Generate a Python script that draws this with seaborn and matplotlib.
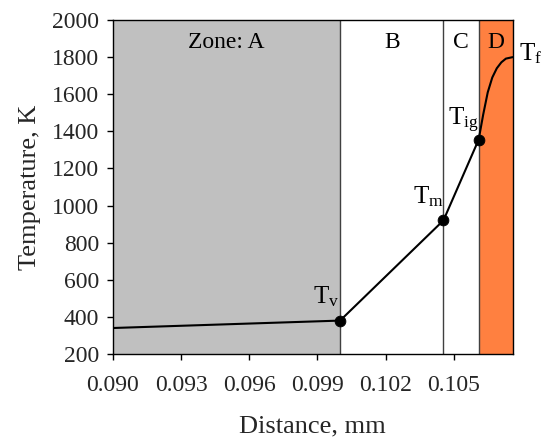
import matplotlib
matplotlib.use("Agg")
import matplotlib.pyplot as plt
import seaborn as sns
import pandas as pd

sns.set_theme(style="ticks")
plt.rcParams['font.family'] = ['Liberation Serif', 'DejaVu Serif']
plt.rcParams['mathtext.fontset'] = 'custom'
plt.rcParams['mathtext.rm'] = 'Liberation Serif'
plt.rcParams['mathtext.it'] = 'Liberation Serif'

# Temperature profile
distance = [0.0900, 0.1000, 0.10455, 0.1061, 0.1063, 0.1065, 0.1067, 0.1069, 0.1071, 0.1073, 0.1076]
temperature = [340, 380, 920, 1355, 1490, 1610, 1690, 1740, 1772, 1792, 1800]

# Marked points
pt_x = [0.1000, 0.10455, 0.1061]
pt_y = [380, 920, 1355]

# Zones
zone_edges = [0.0900, 0.1000, 0.10455, 0.1061, 0.1076]
zone_names = ["Zone: A", "B", "C", "D"]
zone_colors = ["#c0c0c0", "#ffffff", "#ffffff", "#ff8040"]

xticks = [0.090, 0.093, 0.096, 0.099, 0.102, 0.105]
yticks = [200, 400, 600, 800, 1000, 1200, 1400, 1600, 1800, 2000]

fig = plt.figure(figsize=(5.48, 4.40), dpi=100)
ax = fig.add_axes([0.2062, 0.1955, 0.7294, 0.759])

for i in range(4):
    ax.axvspan(zone_edges[i], zone_edges[i + 1], color=zone_colors[i], zorder=0, lw=0)
    ax.text((zone_edges[i] + zone_edges[i + 1]) / 2, 1880, zone_names[i],
            ha="center", va="center", fontsize=17, color="black")
for e in zone_edges[1:-1]:
    ax.axvline(e, color="#404040", lw=1.0, zorder=1)

df = pd.DataFrame({"x": distance, "y": temperature})
sns.lineplot(data=df, x="x", y="y", color="black", lw=1.5, ax=ax, zorder=3)
dp = pd.DataFrame({"x": pt_x, "y": pt_y})
sns.scatterplot(data=dp, x="x", y="y", color="black", s=60, edgecolor="black", ax=ax, zorder=4)

lab_kw = dict(fontsize=18, color="black", ha="left", va="baseline")
ax.text(0.09882, 470, r"T$_{\mathrm{v}}$", **lab_kw)
ax.text(0.10319, 1014, r"T$_{\mathrm{m}}$", **lab_kw)
ax.text(0.10473, 1434, r"T$_{\mathrm{ig}}$", **lab_kw)
ax.text(0.10789, 1785, r"T$_{\mathrm{f}}$", clip_on=False, **lab_kw)

ax.set_xlim(zone_edges[0], zone_edges[-1])
ax.set_ylim(200, 2000)
ax.set_xticks(xticks)
ax.set_xticklabels([f"{t:.3f}" for t in xticks])
ax.set_yticks(yticks)
ax.tick_params(axis="both", labelsize=17, direction="out", length=4, width=1, color="black")
ax.tick_params(axis="x", pad=11)
ax.tick_params(axis="y", pad=6)
ax.set_xlabel("Distance, mm", fontsize=19, labelpad=14)
ax.set_ylabel("Temperature, K", fontsize=19, labelpad=8)
for s in ax.spines.values():
    s.set_color("black")
    s.set_linewidth(1.0)

fig.savefig("out.png", dpi=100)
